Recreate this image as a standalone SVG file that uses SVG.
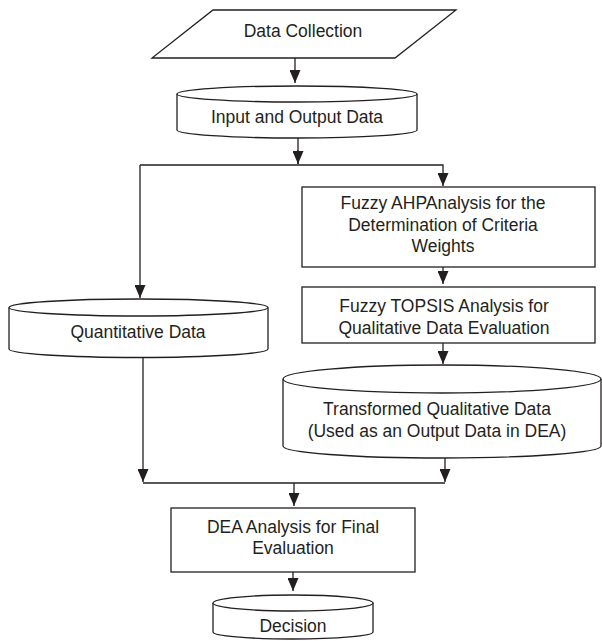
<svg xmlns="http://www.w3.org/2000/svg" width="602" height="641" viewBox="0 0 602 641">
<style>
.shape{fill:#fff;stroke:#231f20;stroke-width:1.3}
.conn{fill:none;stroke:#231f20;stroke-width:1.3}
text{font-family:"Liberation Sans",Arial,sans-serif;font-size:17.5px;fill:#231f20;text-anchor:middle}
</style>
<defs>
<marker id="ah" markerUnits="userSpaceOnUse" markerWidth="13" markerHeight="11" viewBox="0 0 13 11" refX="13" refY="5.5" orient="auto">
<path d="M0,0 L13,5.5 L0,11 z" fill="#231f20"/>
</marker>
</defs>
<rect width="602" height="641" fill="#fff"/>
<g id="connectors">
<path class="conn" d="M295,58 V83" marker-end="url(#ah)"/>
<path class="conn" d="M298,138 V164"/>
<path class="conn" d="M298,150 V164" marker-end="url(#ah)"/>
<path class="conn" d="M140,165 H443 V186" marker-end="url(#ah)"/>
<path class="conn" d="M140,165 V298" marker-end="url(#ah)"/>
<path class="conn" d="M443,267 V284" marker-end="url(#ah)"/>
<path class="conn" d="M443,343 V364" marker-end="url(#ah)"/>
<path class="conn" d="M143,358 V482" marker-end="url(#ah)"/>
<path class="conn" d="M445,458 V482" marker-end="url(#ah)"/>
<path class="conn" d="M143,483 H445"/>
<path class="conn" d="M294,483 V506" marker-end="url(#ah)"/>
<path class="conn" d="M293,572 V591" marker-end="url(#ah)"/>
</g>
<g id="data-collection">
<path class="shape" d="M213,10 H456 L395,58 H152 Z"/>
<text x="303" y="37">Data Collection</text>
</g>
<g id="input-output-data">
<path class="shape" d="M177,94 V130 A120,8 0 0 0 417,130 V94"/>
<ellipse class="shape" cx="297" cy="94" rx="120" ry="8"/>
<text x="297" y="123">Input and Output Data</text>
</g>
<g id="fuzzy-ahp">
<rect class="shape" x="302" y="187" width="293" height="80"/>
<text x="443" y="209">Fuzzy AHPAnalysis for the</text>
<text x="443" y="231">Determination of Criteria</text>
<text x="443" y="252">Weights</text>
</g>
<g id="fuzzy-topsis">
<rect class="shape" x="302" y="287" width="293" height="56"/>
<text x="444" y="312">Fuzzy TOPSIS Analysis for</text>
<text x="444" y="334">Qualitative Data Evaluation</text>
</g>
<g id="quantitative-data">
<path class="shape" d="M9,307.5 V349 A129.5,8.5 0 0 0 268,349 V307.5"/>
<ellipse class="shape" cx="138.5" cy="307.5" rx="129.5" ry="8.5"/>
<text x="138" y="338">Quantitative Data</text>
</g>
<g id="transformed-data">
<path class="shape" d="M283,379 V446 A159,12 0 0 0 601,446 V379"/>
<ellipse class="shape" cx="442" cy="379" rx="159" ry="14"/>
<text x="437" y="415">Transformed Qualitative Data</text>
<text x="437" y="437">(Used as an Output Data in DEA)</text>
</g>
<g id="dea-analysis">
<rect class="shape" x="171" y="508" width="244" height="64"/>
<text x="293" y="533">DEA Analysis for Final</text>
<text x="293" y="554">Evaluation</text>
</g>
<g id="decision">
<path class="shape" d="M213,603 V632 A80,7 0 0 0 373,632 V603"/>
<ellipse class="shape" cx="293" cy="603" rx="80" ry="8"/>
<text x="293" y="632">Decision</text>
</g>
</svg>
